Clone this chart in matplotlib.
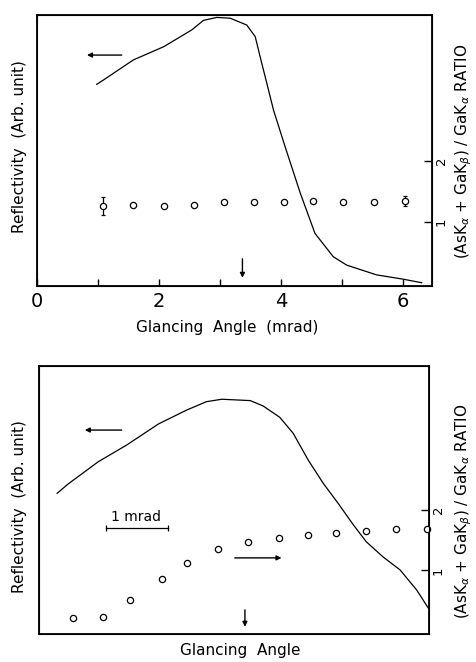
import matplotlib
matplotlib.use("Agg")
import matplotlib.pyplot as plt

# top panel: reflectivity curve (arb. units, 0..1) vs glancing angle (mrad)
top_angle = [0.98, 1.09, 1.58, 2.08, 2.54, 2.73, 2.95, 3.17, 3.44, 3.58, 3.66,
             3.77, 3.88, 4.07, 4.32, 4.56, 4.86, 5.08, 5.57, 6.01, 6.31]
top_refl = [0.744, 0.76, 0.834, 0.883, 0.945, 0.98, 0.991, 0.988, 0.963, 0.92,
            0.846, 0.748, 0.649, 0.514, 0.342, 0.194, 0.108, 0.077, 0.041,
            0.025, 0.012]
# top panel: fluorescence ratio points
top_ratio_angle = [1.09, 1.58, 2.08, 2.57, 3.07, 3.56, 4.05, 4.53, 5.02, 5.53, 6.04]
top_ratio = [1.26, 1.27, 1.26, 1.27, 1.32, 1.32, 1.32, 1.34, 1.32, 1.32, 1.34]
top_ratio_err = [0.15, 0, 0, 0, 0, 0, 0, 0, 0, 0, 0.08]

# bottom panel
bot_angle = [0.29, 0.47, 0.96, 1.42, 1.94, 2.40, 2.72, 2.97, 3.43, 3.64, 3.91,
             4.13, 4.38, 4.62, 4.86, 5.11, 5.32, 5.59, 5.87, 6.14, 6.33]
bot_refl = [0.525, 0.56, 0.643, 0.705, 0.784, 0.836, 0.867, 0.876, 0.871,
            0.851, 0.809, 0.749, 0.647, 0.562, 0.488, 0.407, 0.344, 0.288,
            0.239, 0.164, 0.096]
bot_ratio_angle = [0.55, 1.03, 1.48, 1.99, 2.40, 2.91, 3.40, 3.90, 4.37, 4.82,
                   5.32, 5.80, 6.31]
bot_ratio = [0.22, 0.23, 0.52, 0.86, 1.13, 1.35, 1.47, 1.54, 1.58, 1.62, 1.66,
             1.68, 1.69]

plt.rcParams["font.family"] = ["DejaVu Sans"]
plt.rcParams["mathtext.fontset"] = "dejavusans"

W, H = 476, 662
fig = plt.figure(figsize=(W / 100, H / 100), dpi=100)
ax_t = fig.add_axes([0.0777, 0.568, 0.8299, 0.4094])
ax_b = fig.add_axes([0.0826, 0.0423, 0.8187, 0.4048])

RIGHT_LABEL = r"(AsK$_\alpha$ + GaK$_\beta$) / GaK$_\alpha$ RATIO"


def px(x, y):
    # pixel position (from top-left) -> figure fraction
    return x / W, 1 - y / H


def setup(ax, xlim, y_mid):
    ax.set_xlim(*xlim)
    ax.set_ylim(0, 1)
    ax.set_yticks([])
    for s in ax.spines.values():
        s.set_linewidth(1.3)
    ax2 = ax.twinx()
    ax2.set_ylim(-0.05, 4.38)
    ax2.set_yticks([1, 2])
    ax2.set_yticklabels(["1", "2"], rotation=90, va="center", fontsize=9.5)
    ax2.tick_params(axis="y", direction="in", length=6, width=1, pad=2)
    fig.text(*px(20, y_mid), "Reflectivity  (Arb. unit)", rotation=90,
             ha="center", va="center", fontsize=11)
    fig.text(*px(464, y_mid + 4), RIGHT_LABEL, rotation=90,
             ha="center", va="center", fontsize=11)
    return ax2


def arrow(ax, x0, y0, x1, y1):
    ax.annotate("", xy=(x1, y1), xytext=(x0, y0),
                arrowprops=dict(arrowstyle="-|>", lw=1.0, color="black",
                                mutation_scale=7, shrinkA=0, shrinkB=0))


# ---- top panel
r_t = setup(ax_t, (0, 6.48), 147)
ax_t.plot(top_angle, top_refl, color="black", lw=0.9)
r_t.errorbar(top_ratio_angle, top_ratio, yerr=top_ratio_err, fmt="o",
             mfc="white", mec="black", ms=4.5, mew=0.9, ecolor="black",
             elinewidth=0.9, capsize=1.5)
ax_t.set_xticks([0, 1, 2, 3, 4, 5, 6])
ax_t.set_xticklabels(["0", "", "2", "", "4", "", "6"], fontsize=14)
ax_t.tick_params(axis="x", direction="in", length=5, width=1, pad=4)
fig.text(*px(227, 327), "Glancing  Angle  (mrad)", ha="center", va="center",
         fontsize=11)
arrow(ax_t, 1.39, 0.852, 0.82, 0.852)
arrow(ax_t, 3.37, 0.10, 3.37, 0.03)

# ---- bottom panel
r_b = setup(ax_b, (0, 6.34), 507)
ax_b.plot(bot_angle, bot_refl, color="black", lw=0.9)
r_b.plot(bot_ratio_angle, bot_ratio, "o", mfc="white", mec="black", ms=4.5,
         mew=0.9, clip_on=False)
ax_b.set_xticks([])
fig.text(*px(240, 651), "Glancing  Angle", ha="center", va="center",
         fontsize=11)
arrow(ax_b, 1.34, 0.761, 0.74, 0.761)
arrow(ax_b, 3.18, 0.284, 3.94, 0.284)
arrow(ax_b, 3.345, 0.09, 3.345, 0.027)
ax_b.plot([1.085, 2.10], [0.397, 0.397], color="black", lw=0.9,
          marker="|", ms=5, mew=0.9)
ax_b.text(1.58, 0.435, "1 mrad", ha="center", va="center", fontsize=10)

fig.savefig("out.png", dpi=100)
